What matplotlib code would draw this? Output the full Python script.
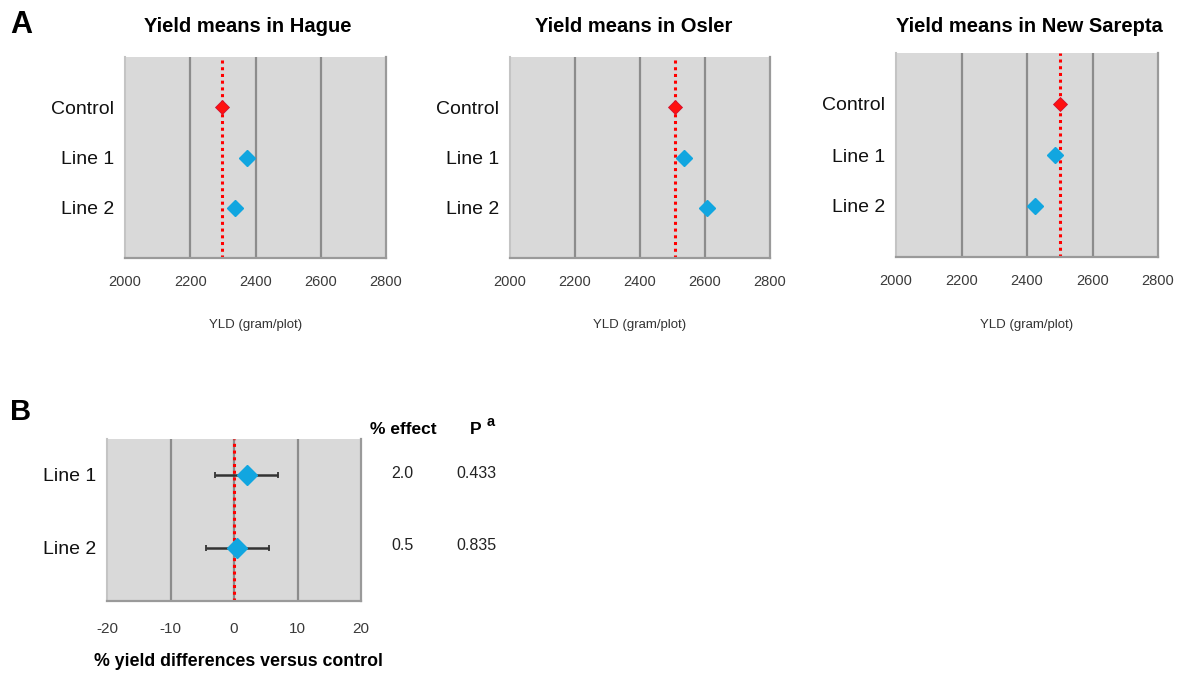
import matplotlib
matplotlib.use("Agg")
import matplotlib.pyplot as plt

plt.rcParams['font.family'] = ['Liberation Sans', 'DejaVu Sans']
plt.rcParams['axes.unicode_minus'] = False

# panel A data (yield means, gram/plot)
sites = ["Hague", "Osler", "New Sarepta"]
entries = ["Control", "Line 1", "Line 2"]
control_means = [2296, 2508, 2500]
line1_means = [2374, 2534, 2484]
line2_means = [2336, 2605, 2424]
yld_ticks = [2000, 2200, 2400, 2600, 2800]

# panel B data (% yield difference vs control)
lines = ["Line 1", "Line 2"]
effect = [2.0, 0.5]
ci_low = [-3.0, -4.4]
ci_high = [7.0, 5.5]
p_values = ["0.433", "0.835"]
pct_ticks = [-20, -10, 0, 10, 20]

W, H = 1186, 677
fig = plt.figure(figsize=(W / 100, H / 100), dpi=100)
fig.patch.set_facecolor("white")

BLUE = "#11a6e0"
GRID = "#8c8c8c"
FACE = "#d9d9d9"
TICKC = "#3a3a3a"


def px_axes(l, t, r, b):
    return fig.add_axes([l / W, 1 - b / H, (r - l) / W, (b - t) / H])


def style(ax, ticks, pad):
    ax.set_facecolor(FACE)
    ax.set_xlim(ticks[0], ticks[-1])
    ax.set_xticks(ticks)
    for t in ticks[1:-1]:
        ax.axvline(t, color=GRID, lw=1.6, zorder=1)
    ax.tick_params(axis="x", length=0, pad=pad, labelsize=10.5, labelcolor=TICKC)
    ax.tick_params(axis="y", length=0, pad=8, labelsize=14, labelcolor="#111111")
    ax.spines["top"].set_visible(False)
    ax.spines["left"].set_color("#c4c4c4")
    ax.spines["left"].set_linewidth(1.5)
    for s in ("bottom", "right"):
        ax.spines[s].set_color("#9a9a9a")
        ax.spines[s].set_linewidth(1.6)


boxes = [(125, 57, 386, 258), (510, 57, 770, 258), (896, 53, 1158, 257)]
title_x = [248, 634, 1029]
for i, site in enumerate(sites):
    ax = px_axes(*boxes[i])
    style(ax, yld_ticks, 12)
    ax.set_ylim(4, 0)
    ax.set_yticks([1, 2, 3])
    ax.set_yticklabels(entries)
    ax.axvline(control_means[i], color="#ff0000", lw=2.2, ls=(0, (1, 1.2)), zorder=2)
    ax.plot([control_means[i]], [1], marker="D", ms=7.5, color="#ff1010",
            mec="#d01030", mew=0.6, ls="none", zorder=3)
    ax.plot([line1_means[i], line2_means[i]], [2, 3], marker="D", ms=8,
            color=BLUE, mec=BLUE, ls="none", zorder=3)
    fig.text(title_x[i] / W, 1 - 26 / H, "Yield means in " + site,
             ha="center", va="center", fontsize=14.5, fontweight="bold")
    cx = (boxes[i][0] + boxes[i][2]) / 2
    fig.text(cx / W, 1 - 325 / H, "YLD (gram/plot)", ha="center", va="center",
             fontsize=9.5, color="#333333")

# panel B
axb = px_axes(107, 439, 361, 601)
style(axb, pct_ticks, 15)
axb.set_ylim(2.73, 0.51)
axb.set_yticks([1, 2])
axb.set_yticklabels(lines)
axb.tick_params(axis="x", labelsize=11)
axb.axvline(0, color="#ff0000", lw=2.2, ls=(0, (1, 1.2)), zorder=2)
ypos = [1, 2]
xerr = [[e - lo for e, lo in zip(effect, ci_low)], [hi - e for e, hi in zip(effect, ci_high)]]
axb.errorbar(effect, ypos, xerr=xerr, fmt="none", ecolor="#333333", elinewidth=1.8,
             capsize=2, capthick=1.3, zorder=3)
axb.plot(effect, ypos, marker="D", ms=10, color=BLUE, mec=BLUE, ls="none", zorder=4)

fig.text(238 / W, 1 - 662 / H, "% yield differences versus control", ha="center",
         va="center", fontsize=12.8, fontweight="bold")
fig.text(403 / W, 1 - 429 / H, "% effect", ha="center", va="center",
         fontsize=12.5, fontweight="bold")
fig.text(470 / W, 1 - 430 / H, "P", ha="left", va="center", fontsize=12.5,
         fontweight="bold")
fig.text(487 / W, 1 - 422 / H, "a", ha="left", va="center", fontsize=10.5,
         fontweight="bold")
for k in range(len(lines)):
    yk = [473, 546][k]
    fig.text(402 / W, 1 - yk / H, f"{effect[k]:.1f}", ha="center", va="center",
             fontsize=11.5, color="#222222")
    fig.text(476 / W, 1 - yk / H, p_values[k], ha="center", va="center",
             fontsize=11.5, color="#222222")

fig.text(10 / W, 1 - 25 / H, "A", ha="left", va="center", fontsize=22, fontweight="bold")
fig.text(10 / W, 1 - 412 / H, "B", ha="left", va="center", fontsize=21, fontweight="bold")

fig.savefig("out.png", dpi=100)
